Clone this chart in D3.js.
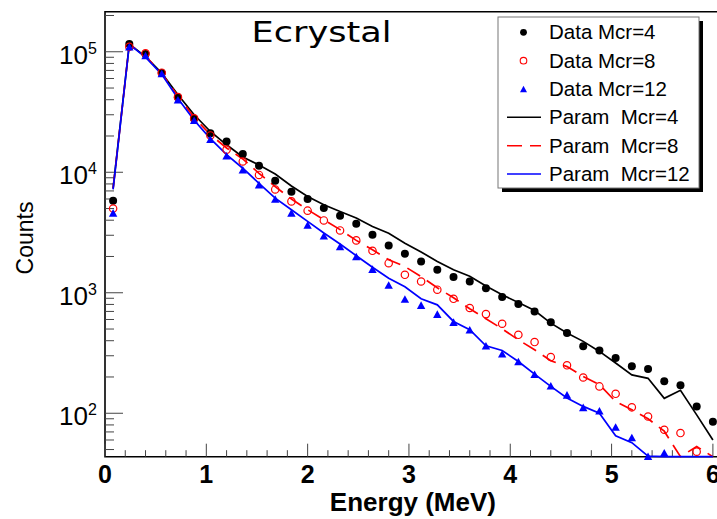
<!DOCTYPE html>
<html>
<head>
<meta charset="utf-8">
<script src="https://cdn.jsdelivr.net/npm/d3@7"></script>
<style>
  body { margin: 0; background: #fff; }
  svg { display: block; }
  text { font-family: "Liberation Sans", Arial, Helvetica, sans-serif; fill: #000; }
</style>
</head>
<body>
<svg id="chart" width="717" height="519"></svg>
<script>
// Bin centres (MeV)
const energy = [0.08, 0.24, 0.40, 0.56, 0.72, 0.88, 1.04, 1.20, 1.36, 1.52,
                1.68, 1.84, 2.00, 2.16, 2.32, 2.48, 2.64, 2.80, 2.96, 3.12,
                3.28, 3.44, 3.60, 3.76, 3.92, 4.08, 4.24, 4.40, 4.56, 4.72,
                4.88, 5.04, 5.20, 5.36, 5.52, 5.68, 5.84, 6.00];

// Measured counts
const dataMcr4  = [5800, 116000, 96000, 66500, 42000, 27800, 21100, 18000, 14200, 11300,
                   8500, 6900, 6000, 5050, 4360, 3740, 3030, 2470, 2110, 1820,
                   1550, 1350, 1240, 1090, 921, 805, 700, 568, 463, 359,
                   332, 287, 245, 233, 184, 171, 114, 85];
const dataMcr8  = [5000, 110000, 97000, 67000, 42000, 28000, 20200, 15400, 12300, 9500,
                   7200, 5730, 4800, 3980, 3290, 2720, 2230, 1760, 1410, 1240,
                   1060, 891, 747, 665, 553, 448, 390, 293, 250, 198,
                   167, 145, 112, 94, 73, 68.5, 48, 40];
const dataMcr12 = [4600, 110000, 93000, 66000, 40000, 27000, 18800, 13700, 10500, 7900,
                   6000, 4600, 3650, 2970, 2420, 2000, 1570, 1160, 887, 790,
                   665, 571, 493, 363, 312, 269, 211, 169, 142, 112,
                   105, 77, 63, 44, 47, 36, 31, 26];

// Parameterised spectra
const paramMcr4  = [7400, 116000, 91000, 66600, 44000, 30000, 21800, 16900, 13400, 11500,
                    9660, 7700, 6300, 5370, 4730, 4170, 3550, 3120, 2580, 2180,
                    1820, 1550, 1370, 1140, 962, 830, 713, 560, 463, 395,
                    326, 261, 208, 195, 133, 155, 97, 60];
const paramMcr8  = [7300, 115000, 92000, 66000, 43000, 28500, 20500, 15900, 12900, 9800,
                    7600, 6000, 4890, 4040, 3340, 2720, 2270, 1880, 1650, 1360,
                    1100, 909, 737, 608, 502, 407, 336, 273, 244, 202,
                    173, 125, 107, 90, 71, 35, 53, 35];
const paramMcr12 = [7200, 115000, 90000, 65000, 41000, 27000, 19000, 14000, 10800, 8100,
                    6100, 4890, 3910, 3130, 2540, 2030, 1630, 1320, 1120, 891,
                    794, 578, 493, 363, 332, 269, 211, 167, 134, 114,
                    100, 65, 57, 44, 38, 33, 28, 24];

const xTickLabels = ["0", "1", "2", "3", "4", "5", "6"];
const yMajorExp = [2, 3, 4, 5];

const legendItems = [
  { label: "Data Mcr=4",  kind: "dot" },
  { label: "Data Mcr=8",  kind: "ring" },
  { label: "Data Mcr=12", kind: "tri" },
  { label: "Param  Mcr=4",  kind: "line", color: "#000", dash: null },
  { label: "Param  Mcr=8",  kind: "line", color: "#ff0000", dash: "15 8" },
  { label: "Param  Mcr=12", kind: "line", color: "#0000ff", dash: null }
];

const svg = d3.select("#chart");
const x = d3.scaleLinear().domain([0, 6.08]).range([105, 721]);
const y = d3.scaleLog().domain([43.6, 2.15e5]).range([456.7, 11.7]);
const yLine = y.copy().clamp(true);
const [x0, x1] = x.range();
const [yb, yt] = y.range();

// Frame
svg.append("path")
  .attr("d", `M${x1},${yt}H${x0}V${yb}H${x1}`)
  .attr("fill", "none").attr("stroke", "#000").attr("stroke-width", 1.6);

// Y ticks (log, decades with minor ticks)
const yt_g = svg.append("g").attr("stroke", "#444").attr("stroke-width", 1);
for (let e = 1; e <= 5; e++) {
  for (let m = 1; m <= 9; m++) {
    const v = m * Math.pow(10, e);
    if (v < y.domain()[0] || v > y.domain()[1]) continue;
    const len = m === 1 ? 18 : 9;
    yt_g.append("line").attr("x1", x0).attr("x2", x0 + len)
      .attr("y1", y(v)).attr("y2", y(v));
  }
}
yMajorExp.forEach(e => {
  const yy = y(Math.pow(10, e));
  svg.append("text").attr("x", 88).attr("y", yy + 12)
    .attr("text-anchor", "end").attr("font-size", 26).text("10");
  svg.append("text").attr("x", 88).attr("y", yy + 2)
    .attr("text-anchor", "start").attr("font-size", 16).text(String(e));
});

// X ticks
const xt_g = svg.append("g").attr("stroke", "#444").attr("stroke-width", 1);
d3.range(0, 31).forEach(i => {
  const v = i * 0.2;
  const major = i % 5 === 0;
  xt_g.append("line").attr("x1", x(v)).attr("x2", x(v))
    .attr("y1", yb).attr("y2", yb - (major ? 13 : 6.5));
});
xTickLabels.forEach((t, i) => {
  svg.append("text").attr("x", x(i)).attr("y", 483)
    .attr("text-anchor", "middle").attr("font-size", 25).attr("font-weight", "bold").text(t);
});

// Axis titles
svg.append("text").attr("x", 496).attr("y", 510.5).attr("text-anchor", "end")
  .attr("font-size", 26).attr("font-weight", "bold").text("Energy (MeV)");
svg.append("text").attr("transform", "translate(33,238) rotate(-90)")
  .attr("text-anchor", "middle").attr("font-size", 23).text("Counts");

// Title
svg.append("text").attr("x", 251.5).attr("y", 42)
  .attr("font-size", 29)
  .attr("textLength", 140).attr("lengthAdjust", "spacingAndGlyphs")
  .style("font-family", '"DejaVu Sans", sans-serif')
  .text("Ecrystal");

// Parameterised curves
const line = d3.line().x(d => x(d[0])).y(d => yLine(d[1]));
const zip = vals => energy.map((e, i) => [e, vals[i]]);
[[paramMcr4, "#000", null], [paramMcr8, "#ff0000", "15 8"], [paramMcr12, "#0000ff", null]]
  .forEach(([vals, col, dash]) => {
    svg.append("path").attr("d", line(zip(vals)))
      .attr("fill", "none").attr("stroke", col).attr("stroke-width", 1.7)
      .attr("stroke-dasharray", dash);
  });

// Markers
const inRange = d => d[1] >= y.domain()[0] && d[1] <= y.domain()[1];
const triPath = (cx, cy, w = 8.4, h = 7.6) =>
  `M${cx},${cy - h / 2}L${cx + w / 2},${cy + h / 2}L${cx - w / 2},${cy + h / 2}Z`;

svg.append("g").selectAll("circle").data(zip(dataMcr4).filter(inRange)).join("circle")
  .attr("cx", d => x(d[0])).attr("cy", d => y(d[1])).attr("r", 4).attr("fill", "#000");
svg.append("g").selectAll("circle").data(zip(dataMcr8).filter(inRange)).join("circle")
  .attr("cx", d => x(d[0])).attr("cy", d => y(d[1])).attr("r", 3.7)
  .attr("fill", "none").attr("stroke", "#ff0000").attr("stroke-width", 1.2);
svg.append("g").selectAll("path").data(zip(dataMcr12).filter(inRange)).join("path")
  .attr("d", d => triPath(x(d[0]), y(d[1]))).attr("fill", "#0000ff");

// Legend
const lg = svg.append("g");
lg.append("rect").attr("x", 502).attr("y", 21).attr("width", 201).attr("height", 171).attr("fill", "#000");
lg.append("rect").attr("x", 498).attr("y", 17).attr("width", 201).attr("height", 171)
  .attr("fill", "#fff").attr("stroke", "#777").attr("stroke-width", 1);
legendItems.forEach((it, i) => {
  const base = 39.3 + i * 28.35;
  const cy = base - 7;
  if (it.kind === "dot") {
    lg.append("circle").attr("cx", 523.5).attr("cy", cy).attr("r", 3.4).attr("fill", "#000");
  } else if (it.kind === "ring") {
    lg.append("circle").attr("cx", 523.5).attr("cy", cy).attr("r", 3.3)
      .attr("fill", "none").attr("stroke", "#ff0000").attr("stroke-width", 1.1);
  } else if (it.kind === "tri") {
    lg.append("path").attr("d", triPath(523.5, cy, 7, 6.4)).attr("fill", "#0000ff");
  } else {
    lg.append("line").attr("x1", 507).attr("x2", 541).attr("y1", cy).attr("y2", cy)
      .attr("stroke", it.color).attr("stroke-width", 1.5)
      .attr("stroke-dasharray", it.dash);
  }
  lg.append("text").attr("x", 549).attr("y", base).attr("font-size", 20.5)
    .style("white-space", "pre").text(it.label);
});
</script>
</body>
</html>
